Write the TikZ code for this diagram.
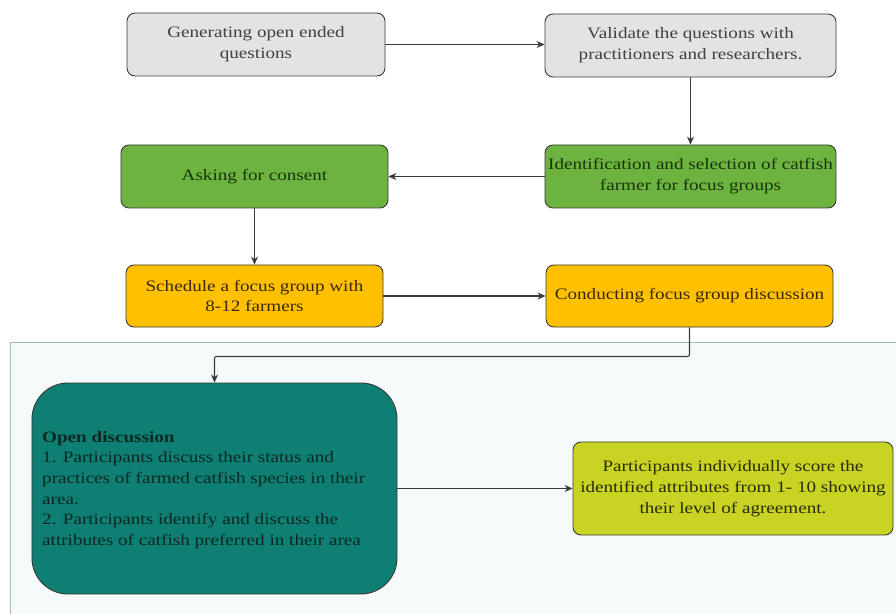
\documentclass[tikz,border=0pt]{standalone}
\usepackage{fontspec}
\setmainfont[FakeStretch=1.2]{Liberation Serif}
\usetikzlibrary{arrows.meta}
\definecolor{grayfill}{HTML}{E3E3E3}
\definecolor{greenfill}{HTML}{6DB33F}
\definecolor{orangefill}{HTML}{FFC000}
\definecolor{tealfill}{HTML}{0E7F72}
\definecolor{yelfill}{HTML}{C8D324}
\definecolor{outerfill}{HTML}{F6FAFB}
\definecolor{outerline}{HTML}{9DBFC2}
\definecolor{edgecol}{HTML}{3A3A3A}
\tikzset{
  box/.style={draw=edgecol, line width=0.9bp, rounded corners=8bp, align=center, inner sep=2bp,
    font=\fontsize{16}{21}\selectfont},
  graybox/.style={box, fill=grayfill, text=black!75},
  greenbox/.style={box, fill=greenfill, text={rgb,255:red,24;green,52;blue,12}},
  orangebox/.style={box, fill=orangefill, text={rgb,255:red,58;green,40;blue,0}},
  conn/.style={draw=edgecol, line width=1.1bp, -{Stealth[length=8bp,width=7bp]}}
}
\begin{document}
\begin{tikzpicture}[x=1bp,y=-1bp]
\useasboundingbox (0,0) rectangle (896,614);
\clip (0,0) rectangle (896,614);
\fill[white] (0,0) rectangle (896,614);
\draw[outerline, fill=outerfill, line width=1bp] (10,342) rectangle (910,630);

\node[graybox, minimum width=258bp, minimum height=63bp] (b1) at (256,44.5) {Generating open ended\\questions};
\node[graybox, minimum width=291bp, minimum height=63bp] (b2) at (690.5,45.5) {Validate the questions with\\practitioners and researchers.};
\node[greenbox, minimum width=291bp, minimum height=63bp] (b3) at (690.5,176.5) {Identification and selection of catfish\\farmer for focus groups};
\node[greenbox, minimum width=267bp, minimum height=63bp] (b4) at (254.5,176.5) {Asking for consent};
\node[orangebox, minimum width=257bp, minimum height=62bp] (b5) at (254.5,296) {Schedule a focus group with\\8-12 farmers};
\node[orangebox, minimum width=287bp, minimum height=62bp] (b6) at (689.5,296) {Conducting focus group discussion};

\node[draw=edgecol, line width=0.9bp, fill=tealfill, rounded corners=36bp,
  minimum width=365bp, minimum height=211bp, inner sep=0pt] (teal) at (214.5,488.5) {};
\node[anchor=west, align=left, inner sep=0pt, text={rgb,255:red,10;green,40;blue,34},
  font=\fontsize{16}{20.8}\selectfont] (tealtext) at (42,490)
  {\textbf{Open discussion}\\1. Participants discuss their status and\\practices of farmed catfish species in their\\area.\\2. Participants identify and discuss the\\attributes of catfish preferred in their area};

\node[box, fill=yelfill, text={rgb,255:red,40;green,44;blue,5}, minimum width=320bp, minimum height=93bp] (yel) at (733,488.5)
  {Participants individually score the\\identified attributes from 1- 10 showing\\their level of agreement.};

\draw[conn] (b1.east) -- (b2.west |- b1.east);
\draw[conn] (b2.south) -- (b3.north);
\draw[conn] (b3.west) -- (b4.east);
\draw[conn] (b4.south) -- (b5.north);
\draw[conn] (b5.east) -- (b6.west);
\draw[conn, rounded corners=2bp] (b6.south) -- ++(0,29) -| (teal.north);
\draw[conn] (teal.east) -- (yel.west);
\end{tikzpicture}
\end{document}
